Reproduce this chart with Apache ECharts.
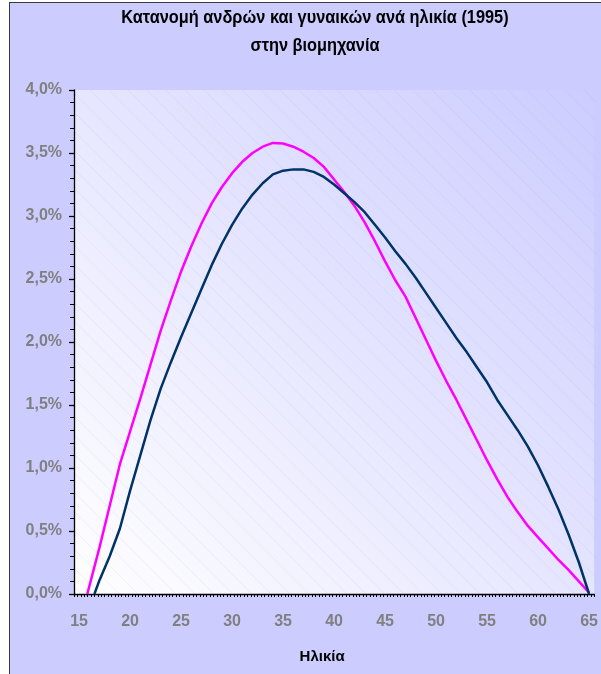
<!DOCTYPE html>
<html>
<head>
<meta charset="utf-8">
<script src="https://cdn.jsdelivr.net/npm/echarts@6/dist/echarts.min.js"></script>
<style>
  html, body { margin: 0; padding: 0; background: #ffffff; }
  #page { position: relative; width: 601px; height: 674px; overflow: hidden; background: #ffffff; }
  #frame { position: absolute; left: 9px; top: 2px; width: 700px; height: 760px;
           background: #ccccff; border: 1.5px solid #3a3a3a; }
  #chart { position: absolute; left: 0; top: 0; width: 601px; height: 674px; }
</style>
</head>
<body>
<div id="page">
  <div id="frame"></div>
  <div id="chart"></div>
</div>
<script>
// Share of employees by age in industry, 1995 (percent of each sex)
const ages = [16,17,18,19,20,21,22,23,24,25,26,27,28,29,30,31,32,33,34,35,36,37,38,39,40,
              41,42,43,44,45,46,47,48,49,50,51,52,53,54,55,56,57,58,59,60,61,62,63,64,65];

// women: curve leaves the axis slightly before 16
const womenOnset = 15.8;
const women = [0.06,0.37,0.70,1.03,1.29,1.55,1.82,2.09,2.33,2.56,2.76,2.94,3.10,3.23,3.34,3.43,3.50,3.55,3.58,3.575,
               3.55,3.51,3.46,3.39,3.29,3.19,3.08,2.95,2.80,2.64,2.49,2.36,2.19,2.02,1.85,1.69,1.54,1.38,1.22,1.06,
               0.91,0.77,0.65,0.54,0.45,0.36,0.27,0.19,0.10,0.01];

// men: curve leaves the axis at about 16.5
const menOnset = 16.5;
const men = [null,0.11,0.30,0.52,0.82,1.10,1.38,1.63,1.84,2.04,2.23,2.42,2.61,2.78,2.93,3.06,3.17,3.26,3.33,3.36,
             3.37,3.37,3.35,3.31,3.25,3.18,3.11,3.03,2.93,2.83,2.72,2.62,2.51,2.39,2.27,2.15,2.03,1.92,1.80,1.68,
             1.54,1.42,1.30,1.17,1.02,0.85,0.67,0.47,0.25,0.0];

const xTickLabels = [15,20,25,30,35,40,45,50,55,60,65];

const titleLines = ['Κατανομή ανδρών και γυναικών ανά ηλικία (1995)', 'στην βιομηχανία'];

function pairs(onset, values) {
  const out = [[onset, 0]];
  ages.forEach((a, i) => { if (values[i] !== null) out.push([a, values[i]]); });
  return out;
}

// small tick marks every third of a year along the age axis
const xMinorTicks = [];
for (let k = 0; k <= 153; k++) xMinorTicks.push(14.5 + k / 3);

// plot rectangle
const G = { left: 74, top: 90, right: 5, bottom: 80 };
const W = 601, H = 674;

// diagonal hatch tile for the plot background
function hatchTile() {
  const c = document.createElement('canvas');
  c.width = 19; c.height = 19;
  const ctx = c.getContext('2d');
  ctx.strokeStyle = 'rgba(140,140,210,0.10)';
  ctx.lineWidth = 1;
  ctx.beginPath();
  ctx.moveTo(-1, -1); ctx.lineTo(20, 20);
  ctx.stroke();
  return c;
}

const font = "'Liberation Sans', Arial, sans-serif";
const chart = echarts.init(document.getElementById('chart'), null, { renderer: 'canvas' });

// condensed bold title lines
const titleGraphics = titleLines.map((t, i) => ({
  type: 'text', silent: true, z: 5,
  x: 315, y: 18 + i * 28, scaleX: 0.86, scaleY: 1,
  style: { text: t, font: 'bold 19px ' + font, fill: '#000', align: 'center', verticalAlign: 'middle' }
}));

chart.setOption({
  backgroundColor: 'transparent',
  animation: false,
  grid: {
    left: G.left, top: G.top, right: G.right, bottom: G.bottom,
    show: true, borderWidth: 0,
    backgroundColor: new echarts.graphic.LinearGradient(0, 1, 1, 0, [
      { offset: 0, color: '#ffffff' },
      { offset: 1, color: '#ccccff' }
    ])
  },
  graphic: [{
    type: 'rect', silent: true, z: 1,
    shape: { x: G.left + 1, y: G.top, width: W - G.left - G.right - 1, height: H - G.top - G.bottom - 1 },
    style: { fill: { image: hatchTile(), repeat: 'repeat' } }
  }].concat(titleGraphics),
  xAxis: {
    type: 'value', min: 14.5, max: 65.5,
    name: 'Ηλικία', nameLocation: 'middle', nameGap: 55,
    nameTextStyle: { fontFamily: font, fontWeight: 'bold', fontSize: 15, color: '#000', padding: [0, 24, 0, 0] },
    axisLine: { show: true, lineStyle: { color: '#000', width: 1.3 } },
    axisTick: { show: true, customValues: xMinorTicks, length: 3, lineStyle: { color: '#000', width: 1 } },
    axisLabel: { customValues: xTickLabels, margin: 20, fontFamily: font, fontWeight: 'bold', fontSize: 16, color: '#808080' },
    splitLine: { show: false }
  },
  yAxis: {
    type: 'value', min: 0, max: 4, interval: 0.5,
    axisLine: { show: true, lineStyle: { color: '#000', width: 1.3 } },
    axisTick: { show: true, length: 5, lineStyle: { color: '#000', width: 1.3 } },
    minorTick: { show: true, splitNumber: 5, length: 4, lineStyle: { color: '#000', width: 1 } },
    axisLabel: {
      margin: 12, fontFamily: font, fontWeight: 'bold', fontSize: 16, color: '#808080',
      formatter: v => v.toFixed(1).replace('.', ',') + '%'
    },
    splitLine: { show: false }
  },
  series: [
    {
      name: 'Γυναίκες', type: 'line', data: pairs(womenOnset, women),
      showSymbol: false, z: 3,
      lineStyle: { color: '#ff00ff', width: 2.5 }
    },
    {
      name: 'Άνδρες', type: 'line', data: pairs(menOnset, men),
      showSymbol: false, z: 3,
      lineStyle: { color: '#003366', width: 2.5 }
    }
  ]
});
</script>
</body>
</html>
